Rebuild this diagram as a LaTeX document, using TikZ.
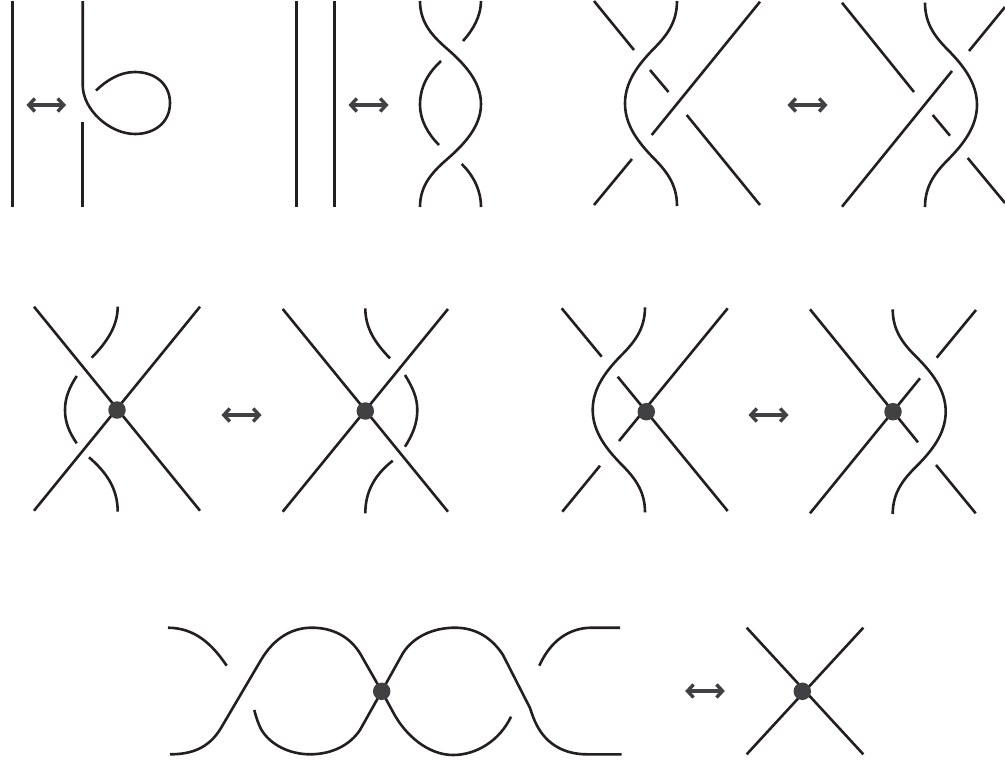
\documentclass[tikz,border=0pt]{standalone}
\usepackage{tikz}
\usetikzlibrary{calc,arrows.meta}
\definecolor{strandcol}{HTML}{231F20}
\definecolor{markcol}{HTML}{414042}
\tikzset{
    strand/.style={line width=2.6pt, draw=strandcol},
    vertex/.style={circle, fill=markcol, inner sep=0pt, minimum size=17.5pt},
    twoway/.style={line width=3.4pt, draw=markcol, {Straight Barb[length=6pt,width=13pt]}-{Straight Barb[length=6pt,width=13pt]}},
}
\newcommand{\BulgeStrand}[4]% #1=outer x, #2=inner x, #3=top y, #4=bottom y
{\pgfmathsetmacro{\bw}{#2-#1}
 \pgfmathsetmacro{\bh}{#4-#3}
 \draw[strand] (#1,#3)
    .. controls ($(#1,#3)+(0,0.11*\bh)$) and ($(#1,#3)+(0.22*\bw,0.175*\bh)$) .. ($(#1,#3)+(0.475*\bw,0.24*\bh)$)
    .. controls ($(#1,#3)+(0.72*\bw,0.305*\bh)$) and ($(#1,#3)+(\bw,0.39*\bh)$) .. ($(#1,#3)+(\bw,0.5*\bh)$)
    .. controls ($(#1,#3)+(\bw,0.61*\bh)$) and ($(#1,#3)+(0.72*\bw,0.695*\bh)$) .. ($(#1,#3)+(0.475*\bw,0.76*\bh)$)
    .. controls ($(#1,#3)+(0.22*\bw,0.825*\bh)$) and ($(#1,#3)+(0,0.89*\bh)$) .. (#1,#4);
}
\begin{document}
\begin{tikzpicture}[x=1pt,y=-1pt]

    \useasboundingbox (0,0) rectangle (1005,763);

    % first row
    \draw[strand] (12.3,1) -- (12.3,207);
    \draw[twoway] (26.5,105) -- (66,105);
    \draw[strand] (82.7,1) -- (82.7,85) .. controls (82.7,110) and (110,134) .. (135,134)
        .. controls (155,134) and (170,122) .. (170,103)
        .. controls (170,84) and (155,72) .. (135,72)
        .. controls (120,72) and (107,80) .. (96,90.5);
    \draw[strand] (82.7,122) -- (82.7,207);

    \draw[strand] (296.3,1) -- (296.3,207);
    \draw[strand] (334.3,1) -- (334.3,207);
    \draw[twoway] (348.5,105) -- (388.5,105);
    \BulgeStrand{420}{481}{1}{207}
    \draw[strand] (481,1) .. controls (481,16) and (473,30) .. (463,41);
    \draw[strand] (441,61) .. controls (427,74) and (420,88) .. (420,105)
        .. controls (420,120) and (428,134) .. (439,145);
    \draw[strand] (461.7,164) .. controls (473,175) and (481,190) .. (481,207);

    \coordinate (TL1) at (594,1);
    \coordinate (TL2) at (634,50);
    \coordinate (TL3) at (650,70);
    \coordinate (TL4) at (668.5,92);
    \coordinate (TL5) at (686.7,115);
    \coordinate (TL6) at (760,205);
    \coordinate (TR1) at (760,1.7);
    \coordinate (TR2) at (651.7,135);
    \coordinate (TR3) at (632,159);
    \coordinate (TR4) at (594,205);
    \BulgeStrand{677}{625}{1}{206}
    \draw[strand] (TL1) -- (TL2);
    \draw[strand] (TL3) -- (TL4);
    \draw[strand] (TL5) -- (TL6);
    \draw[strand] (TR1) -- (TR2);
    \draw[strand] (TR3) -- (TR4);

    \draw[twoway] (787.5,105) -- (827.5,105);

    \coordinate (UL1) at (842,2.7);
    \coordinate (UL2) at (914,92);
    \coordinate (UL3) at (932.7,115);
    \coordinate (UL4) at (950,135.7);
    \coordinate (UL5) at (967.7,158);
    \coordinate (UL6) at (1005,203);
    \coordinate (UR1) at (1005,7);
    \coordinate (UR2) at (969,51);
    \coordinate (UR3) at (952,71);
    \coordinate (UR4) at (842,206.7);
    \BulgeStrand{925}{977}{2.7}{207}
    \draw[strand] (UL1) -- (UL2);
    \draw[strand] (UL3) -- (UL4);
    \draw[strand] (UL5) -- (UL6);
    \draw[strand] (UR1) -- (UR2);
    \draw[strand] (UR3) -- (UR4);

    % second row
    \coordinate (A1) at (34,306.7);
    \coordinate (A2) at (200,510.7);
    \coordinate (A3) at (200,306.7);
    \coordinate (A4) at (34,510.7);
    \draw[strand] (A1) -- (A2);
    \draw[strand] (A3) -- (A4);
    \node[vertex] (VA) at (117,410) {};
    \draw[strand] (117.7,306.7) .. controls (117.7,326) and (107,342) .. (91.7,357.7);
    \draw[strand] (76.7,376) .. controls (69,388) and (65,398) .. (65,410)
        .. controls (65,422) and (69,432) .. (76.7,443.3);
    \draw[strand] (89,457.3) .. controls (106,472) and (117.7,488) .. (117.7,511.7);

    \draw[twoway] (221.5,415) -- (261.5,415);

    \coordinate (B1) at (282.7,309);
    \coordinate (B2) at (448,511.7);
    \coordinate (B3) at (448,309);
    \coordinate (B4) at (282.7,511.7);
    \draw[strand] (B1) -- (B2);
    \draw[strand] (B3) -- (B4);
    \node[vertex] (VB) at (365.3,411) {};
    \draw[strand] (365.3,308.3) .. controls (365.3,328) and (375,343) .. (390,358.3);
    \draw[strand] (405,375) .. controls (413,388) and (417.3,398) .. (417.3,410)
        .. controls (417.3,423) and (413,434) .. (405,446.7);
    \draw[strand] (392.7,460.7) .. controls (376,474) and (365.3,490) .. (365.3,513.3);

    \coordinate (C1) at (561.7,308.3);
    \coordinate (C2) at (601.7,356.7);
    \coordinate (C3) at (617.7,376.7);
    \coordinate (C4) at (727.7,511);
    \coordinate (C5) at (727.7,308.3);
    \coordinate (C6) at (619,441);
    \coordinate (C7) at (600,465.7);
    \coordinate (C8) at (562.3,511.7);
    \BulgeStrand{645}{592.7}{307.3}{512.3}
    \draw[strand] (C1) -- (C2);
    \draw[strand] (C3) -- (C4);
    \draw[strand] (C5) -- (C6);
    \draw[strand] (C7) -- (C8);
    \node[vertex] (VC) at (646.3,411.7) {};

    \draw[twoway] (748.5,415) -- (788.5,415);

    \coordinate (D1) at (810,309.3);
    \coordinate (D2) at (918,442.3);
    \coordinate (D3) at (920,378.3);
    \coordinate (D4) at (810,513.3);
    \coordinate (D5) at (976,310);
    \coordinate (D6) at (936.7,357.7);
    \coordinate (D7) at (936,465);
    \coordinate (D8) at (975.7,513.3);
    \BulgeStrand{892.7}{945.7}{309.3}{514}
    \draw[strand] (D1) -- (D2);
    \draw[strand] (D3) -- (D4);
    \draw[strand] (D5) -- (D6);
    \draw[strand] (D7) -- (D8);
    \node[vertex] (VD) at (893,411.7) {};

    % third row
    \draw[strand] (168,627.7) .. controls (195,628) and (212,644) .. (226.7,665.7);
    \draw[strand] (170,754.3) .. controls (192,754.3) and (209,748) .. (221,728)
        -- (261,660) .. controls (274,638) and (292,627.7) .. (311.7,627.7)
        .. controls (332,627.7) and (350,636) .. (361,655)
        -- (381.7,691.3) -- (393,712)
        .. controls (405,735) and (428,755) .. (453,755)
        .. controls (477,755) and (500,740) .. (511,716.7);
    \draw[strand] (254.3,710) .. controls (256,717) and (258,723) .. (261,729)
        .. controls (270,745) and (290,754.3) .. (310,754.3)
        .. controls (332,754.3) and (350,745) .. (360,730)
        -- (381.7,691.3) -- (403,653)
        .. controls (414,636) and (434,627.7) .. (455,627.7)
        .. controls (476,627.7) and (492,638) .. (503,655)
        -- (530,708) .. controls (532,714) and (534,720) .. (536.7,725)
        .. controls (547,745) and (565,754.3) .. (587,754.3) -- (621.7,754.3);
    \draw[strand] (539.3,665.7) .. controls (550,642) and (568,627.7) .. (592,627.7) -- (620,627.7);
    \node[vertex] (VE) at (381.7,691.3) {};

    \draw[twoway] (685.2,691) -- (724.8,691);

    \coordinate (F1) at (746.7,627.7);
    \coordinate (F2) at (863.3,754.3);
    \coordinate (F3) at (863.3,627.7);
    \coordinate (F4) at (746.7,754.3);
    \draw[strand] (F1) -- (F2);
    \draw[strand] (F3) -- (F4);
    \node[vertex] (VF) at (802.3,691.3) {};

\end{tikzpicture}
\end{document}
